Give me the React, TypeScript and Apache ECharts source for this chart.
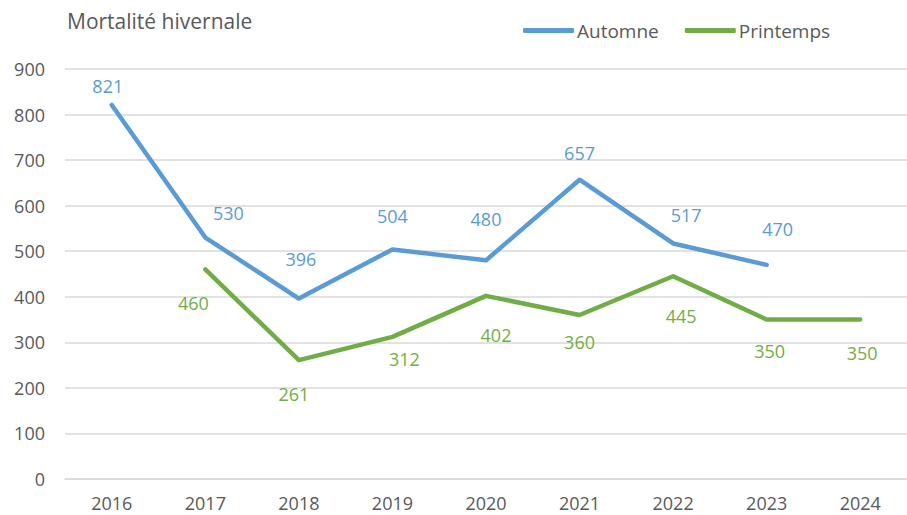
import React, { useEffect, useRef } from "react";
import * as echarts from "echarts";

const years = ["2016", "2017", "2018", "2019", "2020", "2021", "2022", "2023", "2024"];
const automne: (number | null)[] = [821, 530, 396, 504, 480, 657, 517, 470, null];
const printemps: (number | null)[] = [null, 460, 261, 312, 402, 360, 445, 350, 350];
const yTicks = [0, 100, 200, 300, 400, 500, 600, 700, 800, 900];

// label offsets (dx, dy) relative to each point, as placed in the reference
const automneLabelOffsets: [number, number][] = [
  [-4, -19], [23, -25], [2, -40], [0, -33], [0, -41], [0, -27], [13, -28], [11, -36], [0, 0],
];
const printempsLabelOffsets: [number, number][] = [
  [0, 0], [-12, 34], [-5, 34], [12, 22], [10, 39], [0, 27], [8, 40], [3, 31], [2, 33],
];

const BLUE = "#5B9BD5";
const GREEN = "#70AD47";
const GRAY = "#595959";
const FONT = "Open Sans";

function buildData(values: (number | null)[], offsets: [number, number][], color: string) {
  return values.map((v, i) => ({
    value: v,
    label: {
      show: v !== null,
      position: "inside",
      offset: offsets[i],
      color,
      fontSize: 18,
      fontFamily: FONT,
    },
  }));
}

export default function App() {
  const ref = useRef<HTMLDivElement>(null);
  useEffect(() => {
    if (!ref.current) return;
    const chart = echarts.init(ref.current, undefined, { renderer: "svg" });
    chart.setOption({
      animation: false,
      backgroundColor: "#ffffff",
      title: {
        text: "Mortalité hivernale",
        left: 62,
        top: 5,
        textStyle: { color: GRAY, fontSize: 21, fontWeight: "normal", fontFamily: FONT },
      },
      legend: {
        left: 518,
        top: 16,
        icon: "roundRect",
        itemWidth: 51,
        itemHeight: 5,
        itemGap: 26,
        textStyle: { color: GRAY, fontSize: 19, fontFamily: FONT, padding: [0, 0, 0, -2] },
        data: [
          { name: "Automne", itemStyle: { color: BLUE } },
          { name: "Printemps", itemStyle: { color: GREEN } },
        ],
      },
      grid: { left: 65, top: 69, width: 848, height: 410, containLabel: false },
      xAxis: {
        type: "category",
        data: years,
        boundaryGap: true,
        axisLine: { show: true, lineStyle: { color: "#d9d9d9", width: 1.5 } },
        axisTick: { show: false },
        axisLabel: { color: GRAY, fontSize: 18, fontFamily: FONT, margin: 15 },
      },
      yAxis: {
        type: "value",
        min: yTicks[0],
        max: yTicks[yTicks.length - 1],
        interval: 100,
        axisLine: { show: false },
        axisTick: { show: false },
        splitLine: { lineStyle: { color: "#d9d9d9", width: 1.5 } },
        axisLabel: { color: GRAY, fontSize: 18, fontFamily: FONT, margin: 20 },
      },
      series: [
        {
          name: "Automne",
          type: "line",
          data: buildData(automne, automneLabelOffsets, BLUE),
          color: BLUE,
          symbol: "circle",
          symbolSize: 1,
          itemStyle: { color: BLUE },
          lineStyle: { color: BLUE, width: 4.5, cap: "round", join: "round" },
          connectNulls: false,
        },
        {
          name: "Printemps",
          type: "line",
          data: buildData(printemps, printempsLabelOffsets, GREEN),
          color: GREEN,
          symbol: "circle",
          symbolSize: 1,
          itemStyle: { color: GREEN },
          lineStyle: { color: GREEN, width: 4.5, cap: "round", join: "round" },
          connectNulls: false,
        },
      ],
    });
    return () => chart.dispose();
  }, []);
  return (
    <div
      ref={ref}
      style={{ position: "fixed", left: 0, top: 0, width: 907, height: 515 }}
    />
  );
}
